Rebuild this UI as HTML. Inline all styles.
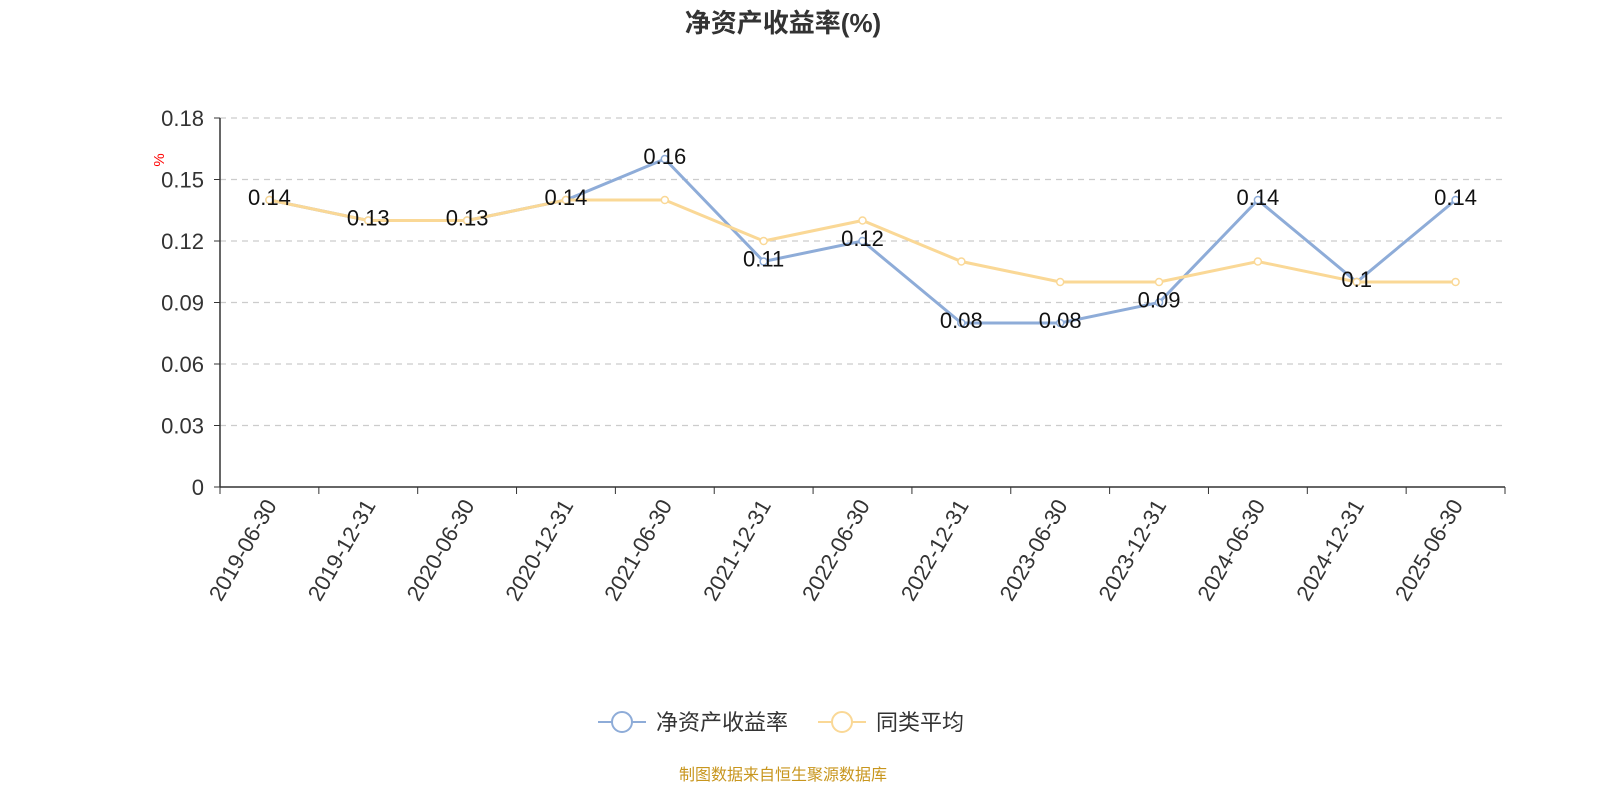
<!DOCTYPE html>
<html><head><meta charset="utf-8"><style>
body{margin:0;background:#fff;width:1600px;height:800px;overflow:hidden;font-family:"Liberation Sans","Noto Sans CJK SC",sans-serif}
</style></head><body>
<svg width="1600" height="800" xmlns="http://www.w3.org/2000/svg" font-family="Liberation Sans, Noto Sans CJK SC, sans-serif">
<text x="783" y="32" text-anchor="middle" font-size="26" font-weight="bold" fill="#333">净资产收益率(%)</text>
<text x="160" y="160" font-size="15" fill="red" transform="rotate(-90 160 160)" text-anchor="middle" dominant-baseline="middle">%</text>
<g id="grid"></g><g id="axes"></g><g id="series"></g><g id="labels"></g>
<g>
<line x1="598" y1="722" x2="646" y2="722" stroke="#8eacd8" stroke-width="2"/>
<circle cx="622" cy="722" r="10" fill="#fff" stroke="#8eacd8" stroke-width="2"/>
<text x="656" y="730" font-size="22" fill="#333">净资产收益率</text>
<line x1="818" y1="722" x2="866" y2="722" stroke="#fad896" stroke-width="2"/>
<circle cx="842" cy="722" r="10" fill="#fff" stroke="#fad896" stroke-width="2"/>
<text x="876" y="730" font-size="22" fill="#333">同类平均</text>
</g>
<text x="783" y="780" text-anchor="middle" font-size="16" fill="#c8961e">制图数据来自恒生聚源数据库</text>
</svg>
<script>
const categories=["2019-06-30","2019-12-31","2020-06-30","2020-12-31","2021-06-30","2021-12-31","2022-06-30","2022-12-31","2023-06-30","2023-12-31","2024-06-30","2024-12-31","2025-06-30"];
const roeValues=[0.14,0.13,0.13,0.14,0.16,0.11,0.12,0.08,0.08,0.09,0.14,0.10,0.14];
const avgValues=[0.14,0.13,0.13,0.14,0.14,0.12,0.13,0.11,0.10,0.10,0.11,0.10,0.10];
const yTicks=[0,0.03,0.06,0.09,0.12,0.15,0.18];
const yTickLabels=["0","0.03","0.06","0.09","0.12","0.15","0.18"];
const roeLabels=["0.14","0.13","0.13","0.14","0.16","0.11","0.12","0.08","0.08","0.09","0.14","0.1","0.14"];
const NS="http://www.w3.org/2000/svg";
const L=220,R=1505,T=118,B=487,yMax=0.18;
const bw=(R-L)/categories.length;
const x=i=>L+bw*(i+0.5);
const y=v=>B-(v/yMax)*(B-T);
function mk(tag,attrs,parent){const e=document.createElementNS(NS,tag);for(const k in attrs)e.setAttribute(k,attrs[k]);document.getElementById(parent).appendChild(e);return e;}
yTicks.forEach((t,i)=>{
 if(t>0){const g=mk('line',{x1:L,x2:R,y1:y(t),y2:y(t),stroke:'#ccc','stroke-dasharray':'6,5','stroke-width':1.3},'grid');
 
 }
 const tk=mk('line',{x1:L-6,x2:L,y1:y(t),y2:y(t),stroke:'#333'},'axes');
 
 
 const tx=mk('text',{x:L-16,y:y(t)+8,'text-anchor':'end','font-size':22,fill:'#333'},'axes');
 tx.textContent=yTickLabels[i];
 
 
});
const ya=mk('line',{x1:L,x2:L,y1:T,y2:B,stroke:'#333','stroke-width':1.5},'axes');


const xa=mk('line',{x1:L,x2:R,y1:B,y2:B,stroke:'#333','stroke-width':1.5},'axes');


for(let i=0;i<=categories.length;i++){
 const tk=mk('line',{x1:L+bw*i,x2:L+bw*i,y1:B,y2:B+7,stroke:'#333'},'axes');
 
 
}
categories.forEach((c,i)=>{
 const tx=mk('text',{x:x(i)+8,y:B+18,'text-anchor':'end','font-size':22,fill:'#333',transform:`rotate(-60 ${x(i)+8} ${B+18})`},'axes');
 tx.textContent=c;
 
 
});
function series(vals,color,name){
 const p=mk('polyline',{points:vals.map((v,i)=>x(i)+','+y(v)).join(' '),fill:'none',stroke:color,'stroke-width':3},'series');
 
 
 vals.forEach((v,i)=>{
  const c=mk('circle',{cx:x(i),cy:y(v),r:3.5,fill:'#fff',stroke:color,'stroke-width':1.5},'series');
  
  
 });
}
series(roeValues,'#8eacd8','roe');
series(avgValues,'#fad896','peer-average');
roeValues.forEach((v,i)=>{
 const t=mk('text',{x:x(i),y:y(v)+5,'text-anchor':'middle','font-size':22,fill:'#111'},'labels');
 t.textContent=roeLabels[i];
 
 
});
</script>
</body></html>
